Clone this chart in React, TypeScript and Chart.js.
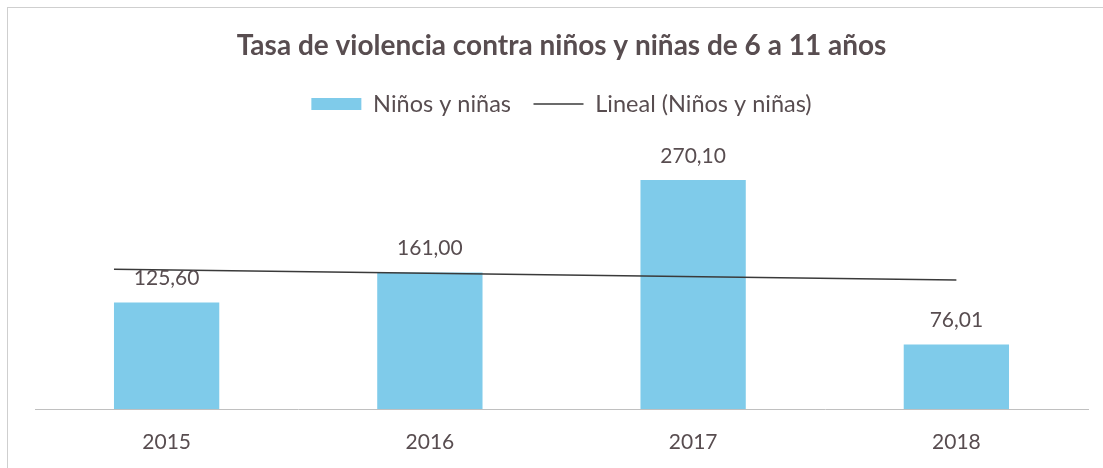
import React, { useEffect, useRef } from "react";
import { Chart, registerables } from "chart.js";

Chart.register(...registerables);

const categories: string[] = ["2015", "2016", "2017", "2018"];
const values: number[] = [125.6, 161.0, 270.1, 76.01];
const seriesName = "Niños y niñas";
const trendName = "Lineal (Niños y niñas)";
const titleText = "Tasa de violencia contra niños y niñas de 6 a 11 años";
const trendBackward = 0.2;

const FONT = "Lato, 'Open Sans', sans-serif";
const TEXT = "#584d50";
const BAR = "#7fcbea";

function linearTrend(ys: number[]) {
  const n = ys.length;
  const mx = (n - 1) / 2;
  const my = ys.reduce((a, b) => a + b, 0) / n;
  let sxy = 0;
  let sxx = 0;
  ys.forEach((y, i) => {
    sxy += (i - mx) * (y - my);
    sxx += (i - mx) * (i - mx);
  });
  const slope = sxy / sxx;
  return (x: number) => my + slope * (x - mx);
}

const labelPlugin = {
  id: "barValueLabels",
  afterDatasetsDraw(chart: any) {
    const meta = chart.getDatasetMeta(0);
    const ctx = chart.ctx;
    ctx.save();
    ctx.font = `21px ${FONT}`;
    ctx.fillStyle = TEXT;
    ctx.textAlign = "center";
    ctx.textBaseline = "middle";
    meta.data.forEach((bar: any, i: number) => {
      const v = values[i];
      ctx.fillText(v.toFixed(2).replace(".", ","), bar.x, bar.y - 24);
    });
    ctx.restore();
  },
};

export default function App() {
  const ref = useRef<HTMLCanvasElement>(null);

  useEffect(() => {
    if (!ref.current) return;
    const trend = linearTrend(values);
    const x0 = -trendBackward;
    const x1 = categories.length - 1;
    const chart = new Chart(ref.current, {
      type: "bar",
      data: {
        labels: categories,
        datasets: [
          {
            type: "bar",
            label: seriesName,
            data: values,
            backgroundColor: BAR,
            borderWidth: 0,
            grouped: false,
            categoryPercentage: 1,
            barPercentage: 0.4,
            pointStyle: "rect",
            order: 1,
          } as any,
          {
            type: "line",
            label: trendName,
            xAxisID: "xTrend",
            data: [
              { x: x0, y: trend(x0) },
              { x: x1, y: trend(x1) },
            ],
            borderColor: "#3a3a3a",
            borderWidth: 1.5,
            pointRadius: 0,
            pointStyle: "line",
            fill: false,
            order: 0,
          } as any,
        ],
      },
      options: {
        responsive: false,
        animation: false,
        layout: { padding: { left: 35, right: 15, top: 0, bottom: 14 } },
        plugins: {
          title: {
            display: true,
            text: titleText,
            color: TEXT,
            font: { family: FONT, size: 28, weight: "bold" },
            padding: { top: 29.2, bottom: 6.95 },
          },
          legend: {
            display: true,
            labels: {
              usePointStyle: true,
              pointStyleWidth: 50,
              boxHeight: 12,
              padding: 22.5,
              color: TEXT,
              font: { family: FONT, size: 23.5 },
              sort: (a: any, b: any) => a.datasetIndex - b.datasetIndex,
            },
          },
          tooltip: { enabled: false },
        },
        scales: {
          x: {
            type: "category",
            offset: true,
            grid: { display: false, drawTicks: false },
            border: { display: true, color: "#c0c0c0", width: 1 },
            ticks: { color: TEXT, font: { family: FONT, size: 21 }, padding: 21 },
            afterFit: (scale: any) => {
              scale.height = 45;
            },
          },
          xTrend: {
            type: "linear",
            display: false,
            offset: false,
            min: -0.5,
            max: categories.length - 0.5,
          },
          y: {
            display: false,
            min: 0,
            max: 334,
          },
        },
      } as any,
      plugins: [labelPlugin],
    });
    return () => chart.destroy();
  }, []);

  return (
    <div style={{ position: "fixed", inset: 0, overflow: "hidden", background: "#fff" }}>
      <div
        style={{
          position: "absolute",
          left: 7,
          top: 7,
          width: 1300,
          height: 700,
          border: "1px solid #cfcfcf",
        }}
      />
      <canvas
        ref={ref}
        width={1103}
        height={468}
        style={{ position: "absolute", left: 0, top: 0, width: 1103, height: 468 }}
      />
    </div>
  );
}
